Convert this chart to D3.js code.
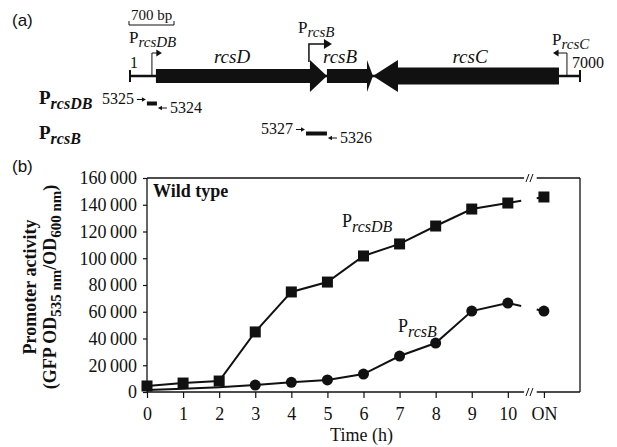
<!DOCTYPE html>
<html>
<head>
<meta charset="utf-8">
<script src="https://cdn.jsdelivr.net/npm/d3@7"></script>
<style>
  body { margin: 0; background: #fff; }
  svg { display: block; }
  text { font-family: "Liberation Serif", "Times New Roman", serif; fill: #111; }
  .sans { font-family: "Liberation Sans", Arial, sans-serif; }
</style>
</head>
<body>
<svg id="chart" width="617" height="447"></svg>
<script>
// --- (a) gene map data (bp coordinates on a 1..7000 map) ---
const mapEnds = [1, 7000];
const genes = [
  { name: 'rcsD', start: 404, end: 3064, dir: 1 },
  { name: 'rcsB', start: 3064, end: 3780, dir: 1 },
  { name: 'rcsC', start: 3780, end: 6673, dir: -1 }
];
const promoters = [
  { sub: 'rcsDB', pos: 342, dir: 1 },
  { sub: 'rcsB', pos: 2784, dir: 1 },
  { sub: 'rcsC', pos: 6797, dir: -1 }
];
const primers = [
  { sub: 'rcsDB', fwd: '5325', rev: '5324', start: 264, end: 420 },
  { sub: 'rcsB', fwd: '5327', rev: '5326', start: 2738, end: 3064 }
];
const scaleBarBp = 700;

// --- (b) promoter activity data ---
const timeLabels = ['0', '1', '2', '3', '4', '5', '6', '7', '8', '9', '10', 'ON'];
const timePos = [0, 1, 2, 3, 4, 5, 6, 7, 8, 9, 10, 11];
const rcsDBValues = [4500, 6700, 8200, 44900, 74800, 82200, 101700, 110700, 124100, 136800, 141300, 145800];
const rcsBValues = [1500, 2500, 3500, 5200, 7200, 9000, 13400, 26900, 36600, 60500, 66500, 60500];
const yTicks = [0, 20000, 40000, 60000, 80000, 100000, 120000, 140000, 160000];

const svg = d3.select('#chart');

// ---------------- panel (a) ----------------
svg.append('text').attr('class', 'sans').attr('x', 12).attr('y', 26)
  .style('font-size', '17px').text('(a)');

const bp = d3.scaleLinear().domain(mapEnds).range([130, 580]);
const mapY = 76;
const a = svg.append('g');

// backbone + end ticks
a.append('line').attr('x1', bp(mapEnds[0])).attr('x2', bp(mapEnds[1]))
  .attr('y1', mapY).attr('y2', mapY).attr('stroke', '#111').attr('stroke-width', 2.5);
mapEnds.forEach(e => {
  a.append('line').attr('x1', bp(e)).attr('x2', bp(e))
    .attr('y1', mapY - 6).attr('y2', mapY + 6).attr('stroke', '#111').attr('stroke-width', 2);
});
a.append('text').attr('x', bp(1)).attr('y', 68).style('font-size', '16px').text('1');
a.append('text').attr('x', bp(7000) - 8).attr('y', 68).style('font-size', '16px').text('7000');

// gene arrows
const headLen = { rcsD: 17, rcsB: 6, rcsC: 25 };
const bodyHalf = { rcsD: 7, rcsB: 7, rcsC: 8.5 };
const headHalf = 16;
genes.forEach(g => {
  const x0 = bp(g.start), x1 = bp(g.end);
  const h = headLen[g.name], b = bodyHalf[g.name];
  let pts;
  if (g.dir > 0) {
    pts = [[x0, mapY - b], [x1 - h, mapY - b], [x1 - h, mapY - headHalf], [x1, mapY],
           [x1 - h, mapY + headHalf], [x1 - h, mapY + b], [x0, mapY + b]];
  } else {
    pts = [[x1, mapY - b], [x0 + h, mapY - b], [x0 + h, mapY - headHalf], [x0, mapY],
           [x0 + h, mapY + headHalf], [x0 + h, mapY + b], [x1, mapY + b]];
  }
  a.append('polygon').attr('points', pts.map(p => p.join(',')).join(' ')).attr('fill', '#111');
});
const geneLabelX = { rcsD: 232, rcsB: 340, rcsC: 470 };
genes.forEach(g => {
  a.append('text').attr('x', geneLabelX[g.name]).attr('y', 63).attr('text-anchor', 'middle')
    .style('font-size', '19px').style('font-style', 'italic').text(g.name);
});

// promoter bent arrows
const promStyle = {
  rcsDB: { top: 53, base: mapY, len: 10, head: 3.5, w: 1, lx: 129, ly: 43 },
  rcsB: { top: 44, base: 62, len: 23, head: 5, w: 1.5, lx: 298, ly: 33 },
  rcsC: { top: 53, base: mapY, len: 14, head: 3.5, w: 1, lx: 552, ly: 45 }
};
promoters.forEach(p => {
  const s = promStyle[p.sub];
  const px = bp(p.pos), xe = px + p.dir * s.len;
  a.append('path').attr('d', `M${px},${s.base}V${s.top}H${xe - p.dir * s.head}`)
    .attr('fill', 'none').attr('stroke', '#111').attr('stroke-width', s.w);
  a.append('polygon').attr('points',
    `${xe},${s.top} ${xe - p.dir * s.head * 1.6},${s.top - s.head} ${xe - p.dir * s.head * 1.6},${s.top + s.head}`)
    .attr('fill', '#111');
  const t = a.append('text').attr('x', s.lx).attr('y', s.ly).style('font-size', '17px');
  t.append('tspan').text('P');
  t.append('tspan').attr('dy', 4).style('font-style', 'italic').style('font-size', '15px').text(p.sub);
});

// scale bar
const sbX0 = bp(1) - 1, sbX1 = sbX0 + (bp(scaleBarBp) - bp(0));
a.append('path').attr('d', `M${sbX0},21V25H${sbX1}V21`).attr('fill', 'none')
  .attr('stroke', '#111').attr('stroke-width', 1);
a.append('text').attr('x', (sbX0 + sbX1) / 2).attr('y', 20).attr('text-anchor', 'middle')
  .style('font-size', '15px').text(scaleBarBp + ' bp');

// primer pairs
primers.forEach((p, i) => {
  const cy = 103.5 + i * 30;
  const x0 = bp(p.start), x1 = bp(p.end);
  const lab = a.append('text').attr('x', 39).attr('y', cy + (i ? 5 : 0))
    .style('font-size', '19px').style('font-weight', 'bold');
  lab.append('tspan').text('P');
  lab.append('tspan').attr('dy', 5).style('font-style', 'italic').style('font-size', '16px').text(p.sub);
  a.append('rect').attr('x', x0).attr('y', cy - 2).attr('width', x1 - x0).attr('height', 4).attr('fill', '#111');
  // forward primer arrow
  const fy = cy - 4;
  a.append('line').attr('x1', x0 - 10).attr('x2', x0 - 4).attr('y1', fy).attr('y2', fy)
    .attr('stroke', '#111').attr('stroke-width', 1);
  a.append('polygon').attr('points', `${x0 - 1},${fy} ${x0 - 5},${fy - 2.2} ${x0 - 5},${fy + 2.2}`).attr('fill', '#111');
  a.append('text').attr('x', x0 - 13).attr('y', cy).attr('text-anchor', 'end')
    .style('font-size', '16px').text(p.fwd);
  // reverse primer arrow
  const ry = cy + 4.5;
  a.append('line').attr('x1', x1 + 4).attr('x2', x1 + 10).attr('y1', ry).attr('y2', ry)
    .attr('stroke', '#111').attr('stroke-width', 1);
  a.append('polygon').attr('points', `${x1 + 1},${ry} ${x1 + 5},${ry - 2.2} ${x1 + 5},${ry + 2.2}`).attr('fill', '#111');
  a.append('text').attr('x', x1 + 13).attr('y', cy + 9)
    .style('font-size', '16px').text(p.rev);
});

// ---------------- panel (b) ----------------
svg.append('text').attr('class', 'sans').attr('x', 12).attr('y', 172)
  .style('font-size', '17px').text('(b)');

const plotL = 147, plotR = 580, plotT = 178, plotB = 392;
const x = d3.scaleLinear().domain([0, 12]).range([plotL, plotR]);
const y = d3.scaleLinear().domain([0, 160000]).range([plotB, plotT]);
const loc = d3.formatLocale({ decimal: '.', thousands: '\u2009', grouping: [3], currency: ['', ''] });
const fmt = loc.format(',d');

const b = svg.append('g');
const yAxis = b.append('g').attr('transform', `translate(${plotL},0)`)
  .call(d3.axisLeft(y).tickValues(yTicks).tickSize(4).tickPadding(6).tickFormat(fmt));
yAxis.select('.domain').remove();
yAxis.selectAll('text').style('font-size', '18px').style('font-family', '"Liberation Serif", serif');
yAxis.selectAll('line').attr('stroke', '#111').attr('stroke-width', 1.2);

const xAxis = b.append('g').attr('transform', `translate(0,${plotB})`)
  .call(d3.axisBottom(x).tickValues(timePos).tickSize(6).tickPadding(9)
    .tickFormat((d, i) => timeLabels[i]));
xAxis.select('.domain').remove();
xAxis.selectAll('text').style('font-size', '18px').style('font-family', '"Liberation Serif", serif');
xAxis.selectAll('line').attr('stroke', '#111').attr('stroke-width', 1.2);

// frame with axis break between 10 and ON
const brk = x(10.6), gap0 = x(10.45), gap1 = x(10.8);
const frame = [
  [plotL, plotT, plotL, plotB], [plotR, plotT, plotR, plotB],
  [plotL, plotT, gap0, plotT], [gap1, plotT, plotR, plotT],
  [plotL, plotB, gap0, plotB], [gap1, plotB, plotR, plotB]
];
frame.forEach(f => b.append('line').attr('x1', f[0]).attr('y1', f[1]).attr('x2', f[2]).attr('y2', f[3])
  .attr('stroke', '#111').attr('stroke-width', 1.3));
[plotT, plotB].forEach(yy => {
  [-2, 2].forEach(dx => {
    b.append('line').attr('x1', brk + dx - 1.5).attr('y1', yy + 4).attr('x2', brk + dx + 1.5).attr('y2', yy - 4)
      .attr('stroke', '#111').attr('stroke-width', 1);
  });
});

// series lines: solid up to 10 h, short stubs either side of the break
function drawSeries(vals) {
  const pts = timePos.map((t, i) => [x(t), y(vals[i])]);
  const n = pts.length;
  b.append('path').attr('d', d3.line()(pts.slice(0, n - 1)))
    .attr('fill', 'none').attr('stroke', '#111').attr('stroke-width', 2);
  const p10 = pts[n - 2], pOn = pts[n - 1];
  const at = xv => {
    const f = (xv - p10[0]) / (pOn[0] - p10[0]);
    return [xv, p10[1] + f * (pOn[1] - p10[1])];
  };
  b.append('path').attr('d', d3.line()([p10, at(x(10.37))]))
    .attr('fill', 'none').attr('stroke', '#111').attr('stroke-width', 2);
  b.append('path').attr('d', d3.line()([at(x(10.8)), pOn]))
    .attr('fill', 'none').attr('stroke', '#111').attr('stroke-width', 2);
  return pts;
}
const bPts = drawSeries(rcsBValues);
const dbPts = drawSeries(rcsDBValues);

// circles (the first three sit under the squares in the original and are not visible)
b.selectAll('circle.rcsB').data(bPts.slice(3)).enter().append('circle')
  .attr('cx', d => d[0]).attr('cy', d => d[1]).attr('r', 5.5).attr('fill', '#111');
b.selectAll('rect.rcsDB').data(dbPts).enter().append('rect')
  .attr('x', d => d[0] - 5.5).attr('y', d => d[1] - 5.5).attr('width', 11).attr('height', 11).attr('fill', '#111');

// labels inside plot
b.append('text').attr('x', 153).attr('y', 197).style('font-size', '18px').style('font-weight', 'bold').text('Wild type');
const l1 = b.append('text').attr('x', 342).attr('y', 227).style('font-size', '18px');
l1.append('tspan').text('P');
l1.append('tspan').attr('dy', 5).style('font-style', 'italic').style('font-size', '16px').text('rcsDB');
const l2 = b.append('text').attr('x', 398).attr('y', 332).style('font-size', '18px');
l2.append('tspan').text('P');
l2.append('tspan').attr('dy', 5).style('font-style', 'italic').style('font-size', '16px').text('rcsB');

// axis titles
b.append('text').attr('x', (plotL + plotR) / 2 - 2).attr('y', 441).attr('text-anchor', 'middle')
  .style('font-size', '18px').text('Time (h)');
const midY = (plotT + plotB) / 2 + 2;
b.append('text').attr('transform', `translate(36,${midY}) rotate(-90)`).attr('text-anchor', 'middle')
  .style('font-size', '18px').style('font-weight', 'bold').text('Promoter activity');
const t2 = b.append('text').attr('transform', `translate(56,${midY}) rotate(-90)`).attr('text-anchor', 'middle')
  .style('font-size', '18px').style('font-weight', 'bold');
t2.append('tspan').text('(GFP OD');
t2.append('tspan').attr('dy', 5).style('font-size', '15px').text('535 nm');
t2.append('tspan').attr('dy', -5).text('/OD');
t2.append('tspan').attr('dy', 5).style('font-size', '15px').text('600 nm');
t2.append('tspan').attr('dy', -5).text(')');
</script>
</body>
</html>
